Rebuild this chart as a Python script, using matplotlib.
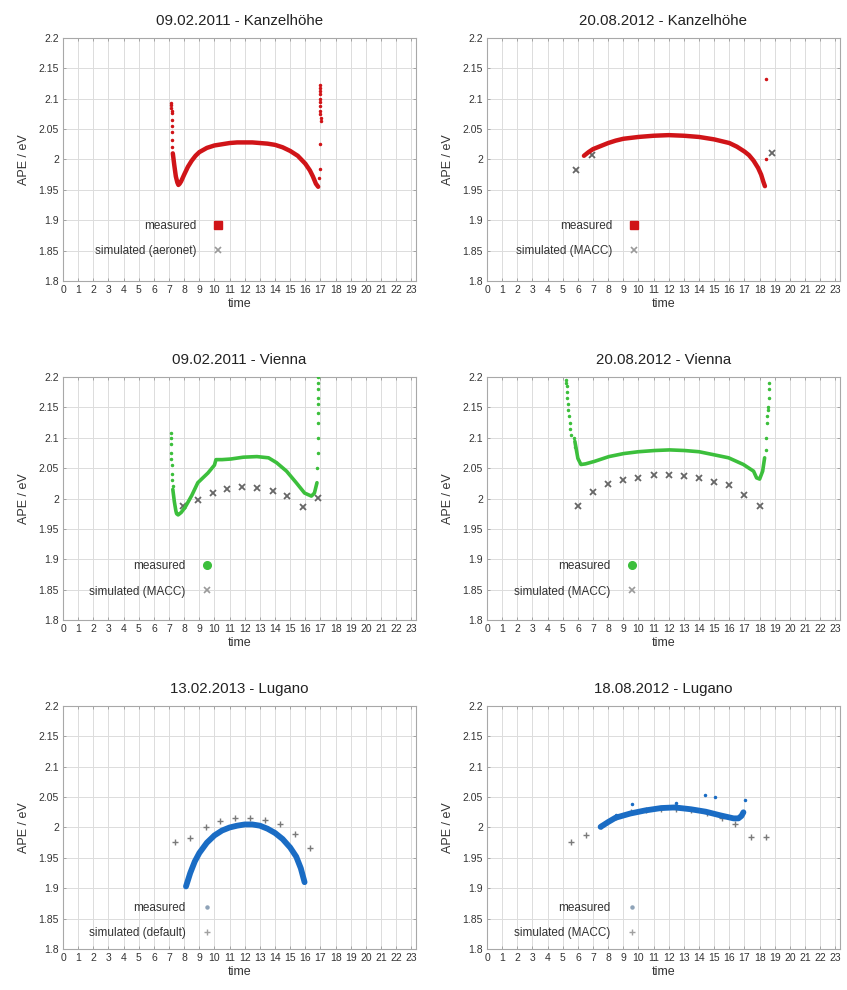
import matplotlib
matplotlib.use('Agg')
import matplotlib.pyplot as plt
from matplotlib.lines import Line2D
from matplotlib.ticker import FormatStrFormatter, MultipleLocator

plt.rcParams['font.family'] = ['Liberation Sans', 'DejaVu Sans']

RED = '#d01418'
GREEN = '#3cbf3c'
BLUE = '#1a6cc4'
GREY = '#7a7a7a'

# 09.02.2011 - Kanzelhoehe
k1_meas_t = [7.25, 7.35, 7.45, 7.55, 7.62, 7.7, 7.8, 8.0, 8.25, 8.5, 8.75, 9.0, 9.5, 10.0, 10.5,
             11.0, 11.5, 12.0, 12.5, 13.0, 13.5, 14.0, 14.5, 15.0, 15.5, 16.0, 16.3, 16.5, 16.7, 16.85]
k1_meas_v = [2.01, 1.99, 1.972, 1.962, 1.958, 1.96, 1.964, 1.975, 1.988, 1.998, 2.006, 2.012, 2.019, 2.023,
             2.025, 2.027, 2.028, 2.028, 2.028, 2.027, 2.026, 2.024, 2.02, 2.014, 2.006, 1.993, 1.982,
             1.972, 1.96, 1.955]
k1_dot_t = [7.15, 7.15, 7.16, 7.17, 7.17, 7.18, 7.19, 7.2, 7.2, 7.22,
            16.95, 16.96, 16.97, 16.97, 16.98, 16.98, 16.99, 17.0, 17.0, 17.01, 17.02, 16.98, 16.95, 16.92]
k1_dot_v = [2.093, 2.089, 2.085, 2.08, 2.076, 2.065, 2.055, 2.045, 2.032, 2.02,
            2.122, 2.118, 2.113, 2.108, 2.1, 2.094, 2.088, 2.08, 2.074, 2.068, 2.064, 2.025, 1.985, 1.97]
k1_sim_t = []
k1_sim_v = []

# 20.08.2012 - Kanzelhoehe
k2_meas_t = [6.4, 6.7, 7.0, 7.5, 8.0, 8.5, 9.0, 10.0, 11.0, 12.0, 13.0, 14.0, 14.5, 15.0, 15.5, 16.0,
             16.5, 17.0, 17.3, 17.6, 17.9, 18.1, 18.25, 18.35]
k2_meas_v = [2.006, 2.012, 2.017, 2.022, 2.027, 2.031, 2.034, 2.037, 2.039, 2.04, 2.039, 2.037, 2.035,
             2.033, 2.03, 2.027, 2.021, 2.013, 2.007, 1.998, 1.986, 1.975, 1.963, 1.956]
k2_dot_t = [18.45, 18.42]
k2_dot_v = [2.133, 2.0]
k2_sim_t = [5.9, 6.95, 18.8]
k2_sim_v = [1.982, 2.007, 2.01]

# 09.02.2011 - Vienna
v1_meas_t = [7.25, 7.35, 7.45, 7.5, 7.6, 7.8, 8.05, 8.5, 8.9, 9.57, 10.0, 10.1, 10.5, 11.08, 11.9,
             12.8, 13.57, 14.1, 14.76, 15.4, 15.95, 16.4, 16.6, 16.77]
v1_meas_v = [2.015, 1.995, 1.98, 1.975, 1.973, 1.977, 1.985, 2.005, 2.026, 2.042, 2.055, 2.064, 2.064,
             2.065, 2.068, 2.069, 2.067, 2.059, 2.045, 2.026, 2.009, 2.004, 2.009, 2.026]
v1_dot_t = [7.1, 7.1, 7.12, 7.13, 7.15, 7.17, 7.2, 7.22, 7.25,
            16.82, 16.83, 16.84, 16.84, 16.85, 16.86, 16.85, 16.84, 16.83, 16.8]
v1_dot_v = [2.108, 2.1, 2.09, 2.075, 2.065, 2.055, 2.04, 2.03, 2.02,
            2.2, 2.19, 2.18, 2.165, 2.155, 2.14, 2.125, 2.1, 2.075, 2.05]
v1_sim_t = [7.94, 8.92, 9.89, 10.86, 11.84, 12.81, 13.85, 14.82, 15.84, 16.82]
v1_sim_v = [1.987, 1.997, 2.009, 2.016, 2.019, 2.018, 2.013, 2.004, 1.986, 2.001]

# 20.08.2012 - Vienna
v2_meas_t = [5.8, 5.9, 6.0, 6.2, 6.5, 7.08, 8.05, 9.03, 10.0, 11.08, 12.06, 13.03, 14.0, 14.98, 15.95,
             16.93, 17.6, 17.8, 18.0, 18.2, 18.33]
v2_meas_v = [2.094, 2.08, 2.066, 2.056, 2.057, 2.061, 2.069, 2.074, 2.077, 2.079, 2.08, 2.079, 2.077,
             2.072, 2.067, 2.056, 2.045, 2.034, 2.032, 2.045, 2.067]
v2_dot_t = [5.2, 5.22, 5.25, 5.27, 5.3, 5.33, 5.36, 5.4, 5.45, 5.5, 5.55, 5.75, 5.8,
            18.4, 18.45, 18.5, 18.52, 18.55, 18.57, 18.6, 18.62, 18.65]
v2_dot_v = [2.195, 2.19, 2.185, 2.175, 2.165, 2.155, 2.145, 2.135, 2.125, 2.115, 2.105, 2.1, 2.085,
            2.08, 2.1, 2.125, 2.135, 2.145, 2.15, 2.165, 2.18, 2.19]
v2_sim_t = [6, 7, 8, 9, 10, 11, 12, 13, 14, 15, 16, 17, 18]
v2_sim_v = [1.988, 2.01, 2.024, 2.03, 2.033, 2.038, 2.038, 2.037, 2.033, 2.027, 2.022, 2.006, 1.987]

# 13.02.2013 - Lugano
l1_meas_t = [8.12, 8.4, 8.7, 9.0, 9.5, 10.0, 10.5, 11.0, 11.5, 12.0, 12.5, 13.0, 13.5, 14.0, 14.5,
             15.0, 15.4, 15.7, 15.95]
l1_meas_v = [1.903, 1.925, 1.944, 1.958, 1.975, 1.987, 1.995, 2.0, 2.003, 2.005, 2.005, 2.003, 1.998,
             1.991, 1.981, 1.967, 1.952, 1.933, 1.91]
l1_dot_t = []
l1_dot_v = []
l1_sim_t = [7.4, 8.38, 9.46, 10.39, 11.36, 12.34, 13.31, 14.33, 15.35, 16.28]
l1_sim_v = [1.976, 1.982, 2.001, 2.01, 2.016, 2.016, 2.012, 2.005, 1.99, 1.966]

# 18.08.2012 - Lugano
l2_meas_t = [7.5, 8.0, 8.48, 9.46, 10.43, 11.5, 12.4, 13.46, 14.44, 15.4, 16.28, 16.6, 16.8, 16.93]
l2_meas_v = [2.001, 2.009, 2.016, 2.023, 2.028, 2.032, 2.033, 2.03, 2.026, 2.02, 2.015, 2.015, 2.019, 2.025]
l2_dot_t = [8.5, 9.55, 12.5, 14.4, 15.05, 17.05]
l2_dot_v = [2.021, 2.038, 2.041, 2.054, 2.05, 2.045]
l2_sim_t = [5.56, 6.54, 7.5, 8.5, 9.5, 10.5, 11.5, 12.5, 13.5, 14.5, 15.5, 16.38, 17.42, 18.44]
l2_sim_v = [1.976, 1.987, 2.003, 2.018, 2.025, 2.029, 2.031, 2.031, 2.029, 2.024, 2.016, 2.006, 1.984, 1.984]

panels = [
    ('09.02.2011 - Kanzelhöhe', k1_meas_t, k1_meas_v, k1_dot_t, k1_dot_v, k1_sim_t, k1_sim_v,
     RED, 3.2, 'simulated (aeronet)', 'x', 's', 0.486, 0.175),
    ('20.08.2012 - Kanzelhöhe', k2_meas_t, k2_meas_v, k2_dot_t, k2_dot_v, k2_sim_t, k2_sim_v,
     RED, 3.2, 'simulated (MACC)', 'x', 's', 0.463, 0.175),
    ('09.02.2011 - Vienna', v1_meas_t, v1_meas_v, v1_dot_t, v1_dot_v, v1_sim_t, v1_sim_v,
     GREEN, 2.6, 'simulated (MACC)', 'x', 'o', 0.455, 0.17),
    ('20.08.2012 - Vienna', v2_meas_t, v2_meas_v, v2_dot_t, v2_dot_v, v2_sim_t, v2_sim_v,
     GREEN, 2.6, 'simulated (MACC)', 'x', 'o', 0.458, 0.17),
    ('13.02.2013 - Lugano', l1_meas_t, l1_meas_v, l1_dot_t, l1_dot_v, l1_sim_t, l1_sim_v,
     BLUE, 4.2, 'simulated (default)', '+', '.', 0.455, 0.117),
    ('18.08.2012 - Lugano', l2_meas_t, l2_meas_v, l2_dot_t, l2_dot_v, l2_sim_t, l2_sim_v,
     BLUE, 4.2, 'simulated (MACC)', '+', '.', 0.458, 0.117),
]

lefts = [0.0744, 0.575]
bottoms = [0.7162, 0.3737, 0.0414]
width = 0.4166
height = 0.2455

fig = plt.figure(figsize=(8.47, 9.9), dpi=100)

for i, (title, mt, mv, dt, dv, st, sv, col, lw, simlabel, simmark, measmark, legx, legy) in enumerate(panels):
    ax = fig.add_axes([lefts[i % 2], bottoms[i // 2], width, height])
    ax.set_axisbelow(True)
    ax.grid(True, color='#dcdcdc', linewidth=0.7)

    if simmark == 'x':
        ax.plot(st, sv, linestyle='none', marker='x', color='#666666', markersize=4.2, mew=1.3, zorder=2)
    else:
        ax.plot(st, sv, linestyle='none', marker='+', color=GREY, markersize=4.5, mew=1.0, zorder=2)
    ax.plot(mt, mv, color=col, linewidth=lw, solid_capstyle='round', zorder=3)
    ax.plot(dt, dv, linestyle='none', marker='o', color=col, markersize=1.5, zorder=3)

    ax.set_xlim(0, 23.3)
    ax.set_ylim(1.8, 2.2)
    ax.xaxis.set_major_locator(MultipleLocator(1))
    ax.yaxis.set_major_locator(MultipleLocator(0.05))
    ax.yaxis.set_major_formatter(FormatStrFormatter('%g'))
    ax.tick_params(direction='in', top=True, right=True, length=2.5, width=0.6,
                   labelsize=7.5, colors='#9a9a9a', labelcolor='#333333', pad=3)
    for sp in ax.spines.values():
        sp.set_color('#a8a8a8')
        sp.set_linewidth(0.8)

    ax.set_title(title, fontsize=10.8, color='#222222', pad=9)
    ax.set_xlabel('time', fontsize=9, color='#333333', labelpad=2)
    ax.set_ylabel('APE / eV', fontsize=9, color='#333333', labelpad=6)

    if measmark == 's':
        h_meas = Line2D([], [], linestyle='none', marker='s', color=col, markersize=6)
    elif measmark == 'o':
        h_meas = Line2D([], [], linestyle='none', marker='o', color=col, markersize=5.5)
    else:
        h_meas = Line2D([], [], linestyle='none', marker='o', color='#8fa3b8', markersize=2.2)
    if simmark == 'x':
        h_sim = Line2D([], [], linestyle='none', marker='x', color='#9a9a9a', markersize=4.5, mew=1.2)
    else:
        h_sim = Line2D([], [], linestyle='none', marker='+', color='#a0a0a0', markersize=4.5, mew=1.0)
    ax.legend([h_meas, h_sim], ['measured', simlabel], loc='center right',
              bbox_to_anchor=(legx, legy), frameon=False, markerfirst=False,
              handlelength=1.0, handletextpad=1.3, labelspacing=1.15, fontsize=8.5,
              labelcolor='#333333')

fig.savefig('out.png', dpi=100)
